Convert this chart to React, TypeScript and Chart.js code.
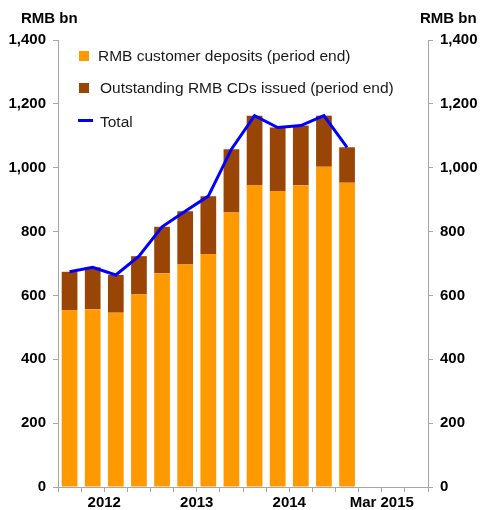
import React, { useEffect, useRef } from "react";
import { Chart, registerables } from "chart.js";

Chart.register(...registerables);

const categories = [
  "2012 Q1", "2012 Q2", "2012 Q3", "2012 Q4",
  "2013 Q1", "2013 Q2", "2013 Q3", "2013 Q4",
  "2014 Q1", "2014 Q2", "2014 Q3", "2014 Q4",
  "2015 Q1", "2015 Q2", "2015 Q3", "2015 Q4",
];
const xTickLabels = ["", "2012", "", "", "", "2013", "", "", "", "2014", "", "", "", "Mar 2015", "", ""];
const deposits = [554, 557, 546, 603, 669, 697, 730, 860, 946, 927, 945, 1003, 953, null, null, null];
const cds = [120, 131, 118, 120, 146, 167, 181, 198, 217, 199, 187, 160, 111, null, null, null];
const total = [674, 688, 664, 723, 815, 864, 911, 1058, 1163, 1126, 1132, 1163, 1064, null, null, null];
const yTicks = [0, 200, 400, 600, 800, 1000, 1200, 1400];

const ORANGE = "#FF9900";
const BROWN = "#994505";
const BLUE = "#0000FF";
const AXIS = "#A6A6A6";
const FONT = "'Liberation Sans', Arial, sans-serif";

export default function App() {
  const ref = useRef<HTMLCanvasElement | null>(null);
  useEffect(() => {
    if (!ref.current) return;
    const tickFont = { family: FONT, size: 15, weight: "bold" as const };
    const yScale = (position: "left" | "right", width: number) => ({
      position,
      min: 0,
      max: 1400,
      stacked: true,
      afterBuildTicks: (s: any) => {
        s.ticks = yTicks.map((v) => ({ value: v }));
      },
      afterFit: (s: any) => {
        s.width = width;
      },
      grid: { drawOnChartArea: false, tickLength: 5, color: AXIS },
      border: { color: AXIS, width: 1 },
      ticks: {
        font: tickFont,
        color: "#000",
        padding: 7,
        callback: (v: any) => Number(v).toLocaleString("en-US"),
      },
    });
    const chart = new Chart(ref.current, {
      type: "bar",
      data: {
        labels: categories,
        datasets: [
          {
            type: "line",
            label: "Total",
            data: total,
            borderColor: BLUE,
            backgroundColor: BLUE,
            borderWidth: 3,
            pointRadius: 0,
            tension: 0,
            stack: "line",
            order: 0,
            yAxisID: "y",
          } as any,
          {
            label: "RMB customer deposits (period end)",
            data: deposits,
            backgroundColor: ORANGE,
            stack: "bars",
            order: 1,
            barPercentage: 0.68,
            categoryPercentage: 1,
            yAxisID: "y",
          },
          {
            label: "Outstanding RMB CDs issued (period end)",
            data: cds,
            backgroundColor: BROWN,
            stack: "bars",
            order: 1,
            barPercentage: 0.68,
            categoryPercentage: 1,
            yAxisID: "y",
          },
        ],
      },
      options: {
        animation: false,
        responsive: false,
        layout: { padding: { top: 40, left: 0, right: 0, bottom: 0 } },
        plugins: { legend: { display: false }, tooltip: { enabled: false } },
        scales: {
          x: {
            stacked: true,
            offset: true,
            afterFit: (s: any) => {
              s.height = 23;
            },
            grid: { offset: true, drawOnChartArea: false, tickLength: 5, color: AXIS },
            border: { color: AXIS, width: 1 },
            ticks: {
              autoSkip: false,
              maxRotation: 0,
              minRotation: 0,
              padding: 2,
              font: tickFont,
              color: "#000",
              labelOffset: 11.56,
              callback: (_v: any, i: number) => xTickLabels[i],
            },
          },
          y: yScale("left", 58) as any,
          y2: yScale("right", 52) as any,
        },
      },
    });
    return () => chart.destroy();
  }, []);

  const legendText: React.CSSProperties = {
    position: "absolute",
    fontFamily: FONT,
    fontSize: 15.5,
    color: "#1a1a1a",
    whiteSpace: "nowrap",
    lineHeight: "18px",
  };
  const title: React.CSSProperties = {
    position: "absolute",
    fontFamily: FONT,
    fontSize: 15,
    fontWeight: "bold",
    color: "#000",
    top: 9,
    lineHeight: "18px",
    whiteSpace: "nowrap",
  };
  return (
    <div style={{ position: "absolute", left: 0, top: 0, width: 480, height: 510, background: "#fff" }}>
      <canvas ref={ref} width={480} height={510} style={{ position: "absolute", left: 0, top: 0 }} />
      <div style={{ ...title, left: 21 }}>RMB bn</div>
      <div style={{ ...title, left: 420 }}>RMB bn</div>
      <div style={{ position: "absolute", left: 79, top: 51, width: 10, height: 10, background: ORANGE }} />
      <div style={{ ...legendText, left: 98, top: 47 }}>RMB customer deposits (period end)</div>
      <div style={{ position: "absolute", left: 79, top: 83, width: 10, height: 10, background: BROWN }} />
      <div style={{ ...legendText, left: 100, top: 79 }}>Outstanding RMB CDs issued (period end)</div>
      <div style={{ position: "absolute", left: 78, top: 119, width: 15, height: 3, background: BLUE }} />
      <div style={{ ...legendText, left: 100, top: 113 }}>Total</div>
    </div>
  );
}
